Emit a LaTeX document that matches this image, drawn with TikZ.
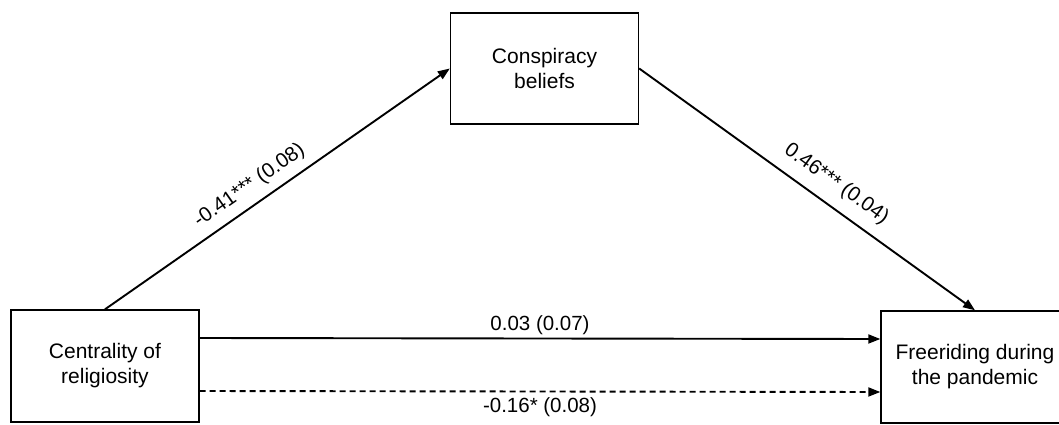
\documentclass[tikz,border=0pt]{standalone}
\usepackage{fontspec}
\setmainfont{Liberation Sans}
\usetikzlibrary{arrows.meta,calc}

\begin{document}
\begin{tikzpicture}[x=1pt, y=-1pt,
    var/.style={rectangle, draw=black, line width=1.4pt, minimum width=188pt,
                minimum height=112pt, align=center, inner sep=0pt,
                font=\fontsize{21}{25}\selectfont},
    path/.style={-{Triangle[length=12pt,width=9pt]}, line width=1.9pt},
    coef/.style={font=\fontsize{20.5}{24}\selectfont, inner sep=3pt}]

\useasboundingbox (0,0) rectangle (1059,425);
\clip (0,0) rectangle (1059,425);

\node[var] (rel) at (105,366) {Centrality of\\religiosity};
\node[var, minimum height=111pt] (consp) at (544.5,68.5) {Conspiracy\\beliefs};
\node[var] (free) at (975,367) {Freeriding during\\the pandemic};

% a path and b path
\draw[path] (rel.north) -- node[coef, sloped, above=5pt, pos=0.45] {-0.41*** (0.08)} (consp.west);
\draw[path] (consp.east) -- node[coef, sloped, above=8pt, pos=0.55] {0.46*** (0.04)} (free.north);

% direct effect and total effect
\draw[path] ([yshift=28pt]rel.east) -- node[coef, above] {0.03 (0.07)} ([yshift=28pt]free.west);
\draw[path, dash pattern=on 6pt off 4pt] ([yshift=-25pt]rel.east) -- node[coef, below, yshift=-2pt] {-0.16* (0.08)} ([yshift=-25pt]free.west);
\end{tikzpicture}
\end{document}
